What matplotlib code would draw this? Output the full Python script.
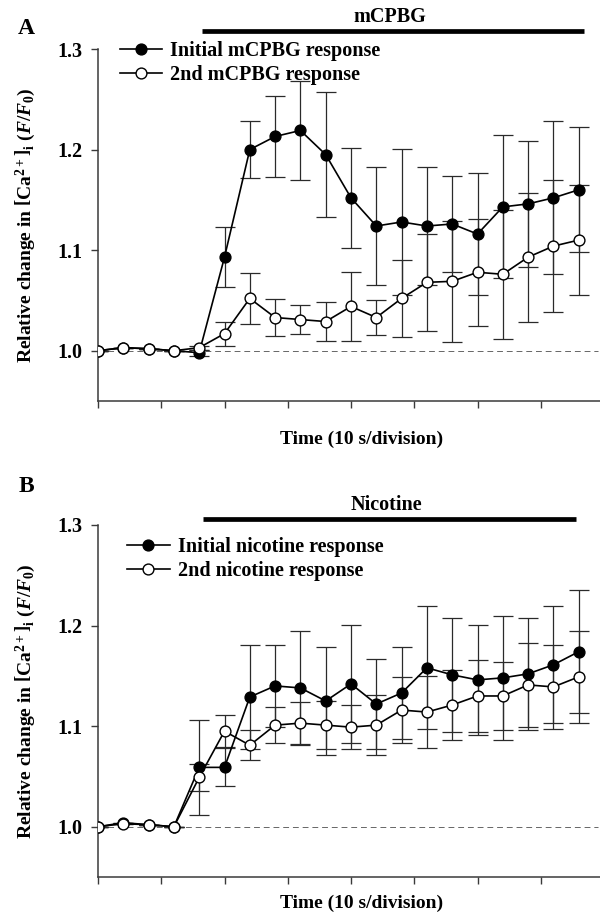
import numpy as np
import matplotlib
matplotlib.use("Agg")
import matplotlib.pyplot as plt

plt.rcParams['font.family'] = ['Liberation Serif', 'DejaVu Serif']
plt.rcParams['font.weight'] = 'bold'
plt.rcParams['axes.labelweight'] = 'bold'
plt.rcParams['mathtext.fontset'] = 'custom'
plt.rcParams['mathtext.rm'] = 'Liberation Serif:bold'
plt.rcParams['mathtext.it'] = 'Liberation Serif:bold:italic'
plt.rcParams['mathtext.bf'] = 'Liberation Serif:bold'

# time of each sample (s)
time_s = [0, 4, 8, 12, 16, 20, 24, 28, 32, 36, 40, 44, 48, 52, 56, 60, 64, 68, 72, 76]
tick_s = [0, 10, 20, 30, 40, 50, 60, 70]
ytick_vals = [1.0, 1.1, 1.2, 1.3]

# panel A: mCPBG
mcpbg_first = [1.000, 1.003, 1.002, 1.000, 0.998, 1.093, 1.200, 1.213, 1.219, 1.195,
               1.152, 1.124, 1.128, 1.124, 1.126, 1.116, 1.143, 1.146, 1.152, 1.160]
mcpbg_first_err = [0, 0, 0, 0, 0.003, 0.030, 0.028, 0.040, 0.049, 0.062,
                   0.050, 0.059, 0.073, 0.059, 0.048, 0.061, 0.071, 0.063, 0.076, 0.062]
mcpbg_second = [1.000, 1.003, 1.002, 1.000, 1.003, 1.017, 1.052, 1.033, 1.031, 1.029,
                1.044, 1.033, 1.052, 1.068, 1.069, 1.078, 1.076, 1.093, 1.104, 1.110]
mcpbg_second_err = [0, 0, 0, 0, 0.002, 0.012, 0.025, 0.018, 0.014, 0.019,
                    0.034, 0.017, 0.038, 0.048, 0.060, 0.053, 0.064, 0.064, 0.066, 0.055]
mcpbg_bar = (16.5, 76.8)

# panel B: nicotine
nic_first = [1.000, 1.004, 1.002, 1.000, 1.059, 1.059, 1.129, 1.140, 1.138, 1.125,
             1.142, 1.122, 1.133, 1.158, 1.151, 1.146, 1.148, 1.152, 1.161, 1.174]
nic_first_err = [0, 0, 0, 0, 0.047, 0.019, 0.052, 0.041, 0.057, 0.054,
                 0.059, 0.045, 0.046, 0.061, 0.057, 0.055, 0.062, 0.056, 0.058, 0.061]
nic_second = [1.000, 1.003, 1.002, 1.000, 1.049, 1.095, 1.081, 1.101, 1.103, 1.101,
              1.099, 1.101, 1.116, 1.114, 1.121, 1.130, 1.130, 1.141, 1.139, 1.149]
nic_second_err = [0, 0, 0, 0, 0.013, 0.016, 0.015, 0.018, 0.021, 0.024,
                  0.022, 0.030, 0.033, 0.036, 0.035, 0.036, 0.034, 0.042, 0.042, 0.046]
nic_bar = (16.6, 75.6)

W, H = 600, 914
fig = plt.figure(figsize=(W / 100, H / 100), dpi=100)

axis_col = '#3a3a3a'


def draw_panel(ax, first, first_err, second, second_err, labels, drug, bar, bar_off,
               leg_xy, xlab_y):
    ax.errorbar(time_s, first, yerr=first_err, fmt='none', ecolor='#2a2a2a',
                elinewidth=0.9, capsize=7, capthick=0.9, zorder=1)
    ax.errorbar(time_s, second, yerr=second_err, fmt='none', ecolor='#2a2a2a',
                elinewidth=0.9, capsize=7, capthick=0.9, zorder=1)
    ax.plot([0, 79], [1.0, 1.0], ls=(0, (6, 4)), color='#666666', lw=0.7, zorder=0)
    ax.plot(time_s, first, '-o', color='black', lw=1.2, ms=7.8, mfc='black',
            mec='black', mew=1, label=labels[0], zorder=3)
    ax.plot(time_s, second, '-o', color='black', lw=1.2, ms=7.8, mfc='white',
            mec='black', mew=1, label=labels[1], zorder=4)

    ax.set_xlim(0, 80)
    ax.set_ylim(0.95, 1.3)
    ax.set_xticks(tick_s)
    ax.set_xticklabels([])
    ax.set_yticks(ytick_vals)
    ax.set_yticklabels(['%.1f' % v for v in ytick_vals], fontsize=14.5)
    ax.tick_params(direction='out', length=5, width=1, color=axis_col, pad=6)
    for s in ['top', 'right']:
        ax.spines[s].set_visible(False)
    for s in ['left', 'bottom']:
        ax.spines[s].set_color(axis_col)
        ax.spines[s].set_linewidth(1.1)

    ax.set_ylabel(r'Relative change in $\left[\mathrm{Ca}^{2+}\right]_\mathrm{i}$ ($F/F_0$)',
                  fontsize=14)
    ax.yaxis.set_label_coords(-0.12, 0.5)
    ax.set_xlabel('Time (10 s/division)', fontsize=14)
    ax.xaxis.set_label_coords(0.52, xlab_y)

    y_bar = 1.3 + bar_off
    ax.plot(bar, [y_bar, y_bar], color='black', lw=3.4, solid_capstyle='butt', clip_on=False)
    ax.text(np.mean(bar) - 0.5, y_bar + 0.004, drug, ha='center', va='bottom', fontsize=14.5)

    ax.legend(loc='upper left', bbox_to_anchor=leg_xy, frameon=False, fontsize=14.5,
              handlelength=2.1, handletextpad=0.4, labelspacing=0.2, borderaxespad=0,
              borderpad=0)


ax_a = fig.add_axes([98 / W, 1 - 401 / H, 506 / W, 352 / H])
draw_panel(ax_a, mcpbg_first, mcpbg_first_err, mcpbg_second, mcpbg_second_err,
           ['Initial mCPBG response', '2nd mCPBG response'], 'mCPBG', mcpbg_bar, 0.0175,
           (0.043, 1.024), -0.085)

ax_b = fig.add_axes([98 / W, 1 - 877 / H, 506 / W, 352 / H])
draw_panel(ax_b, nic_first, nic_first_err, nic_second, nic_second_err,
           ['Initial nicotine response', '2nd nicotine response'], 'Nicotine', nic_bar, 0.0055,
           (0.058, 0.965), -0.05)

fig.text(26 / W, 1 - 28 / H, 'A', fontsize=17, ha='center', va='center')
fig.text(26 / W, 1 - 487 / H, 'B', fontsize=17, ha='center', va='center')

fig.savefig('out.png', dpi=100)
